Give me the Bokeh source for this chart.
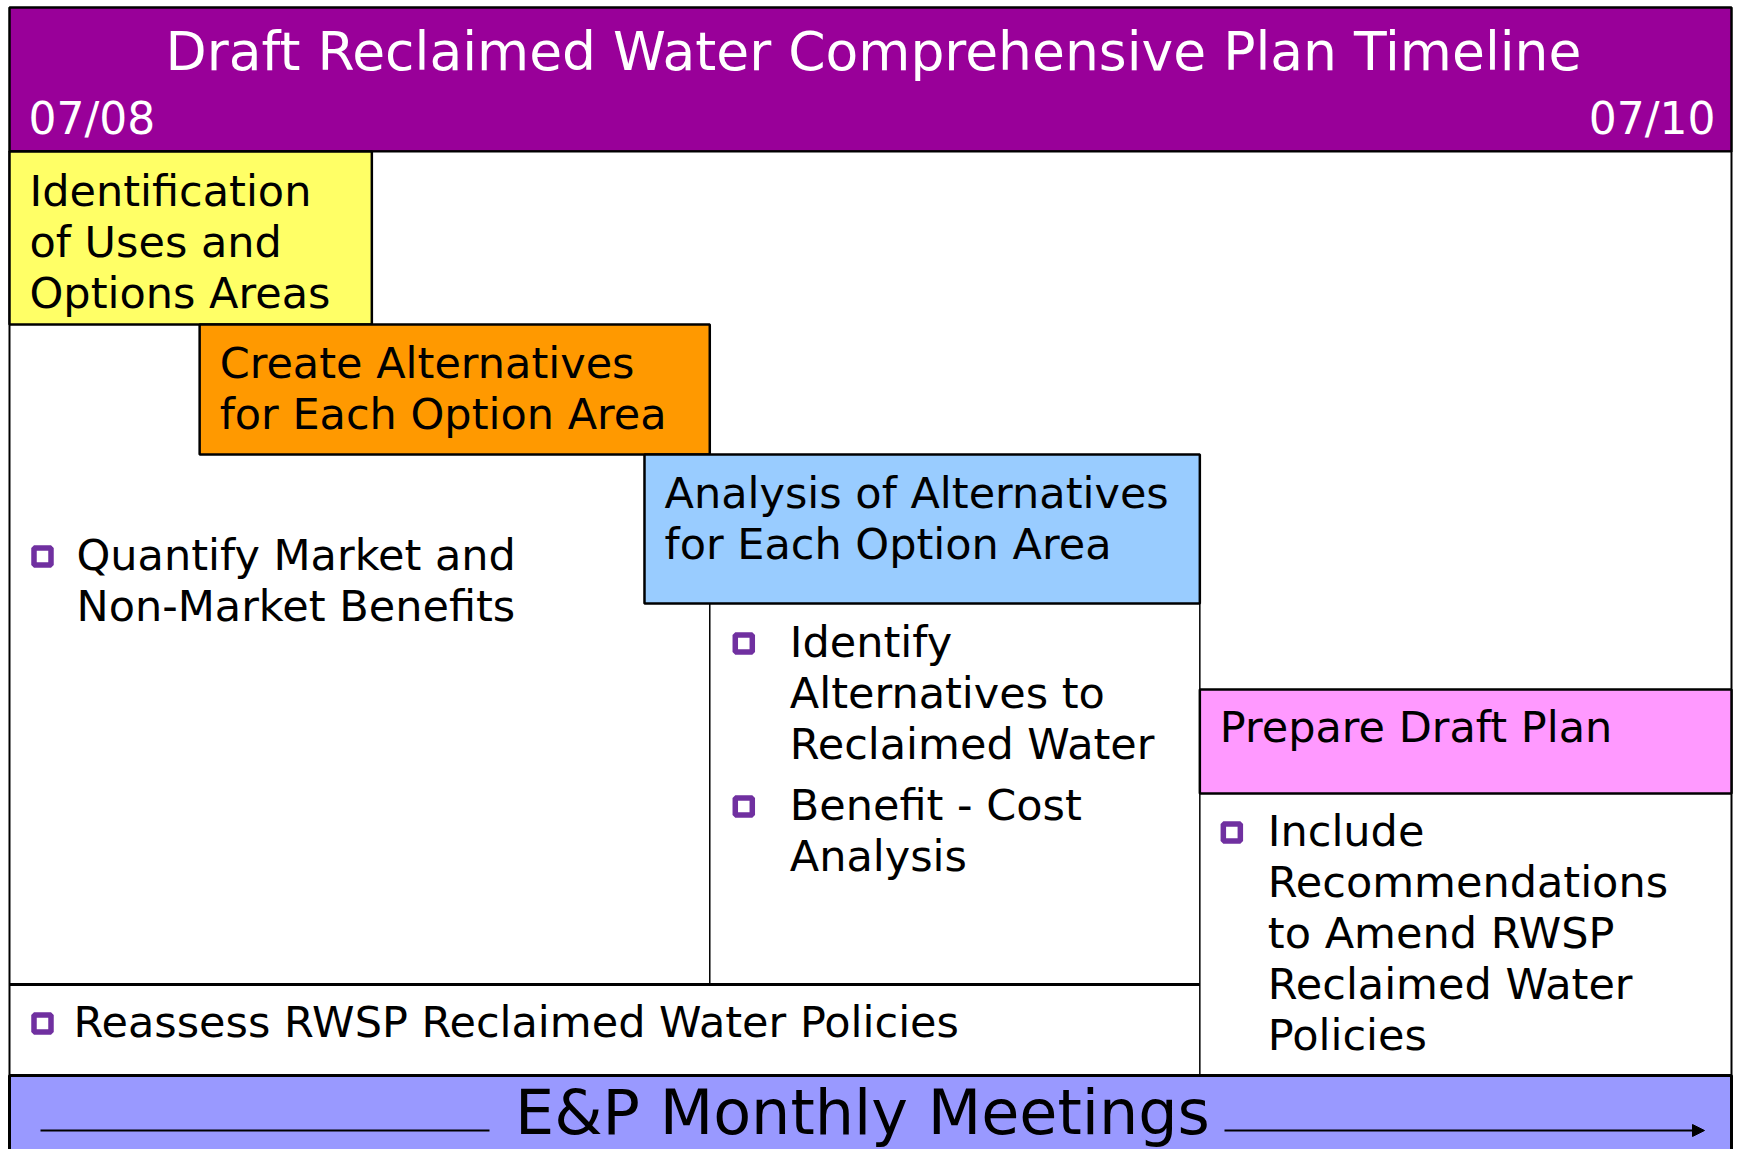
from bokeh.plotting import figure
from bokeh.models import Range1d, Arrow, NormalHead
from bokeh.core.properties import value
from bokeh.embed import file_html
from bokeh.resources import INLINE

# ---- data ----
title = "Draft Reclaimed Water Comprehensive Plan Timeline"
start_label = "07/08"
end_label = "07/10"
total_months = 24

phase_labels = [
    ["Identification", "of Uses and", "Options Areas"],
    ["Create Alternatives", "for Each Option Area"],
    ["Analysis of Alternatives", "for Each Option Area"],
    ["Prepare Draft Plan"],
]
phase_start = [0.0, 2.65, 8.85, 16.59]
phase_end = [5.05, 9.76, 16.59, 24.0]
phase_colors = ["#FFFF66", "#FF9900", "#99CCFF", "#FF99FF"]

task_quantify = ["Quantify Market and", "Non-Market Benefits"]
task_identify = ["Identify", "Alternatives to", "Reclaimed Water"]
task_benefit = ["Benefit - Cost", "Analysis"]
task_include = ["Include", "Recommendations", "to Amend RWSP", "Reclaimed Water", "Policies"]
task_reassess = ["Reassess RWSP Reclaimed Water Policies"]
meetings = "E&P Monthly Meetings"

# ---- layout ----
W, H = 1733, 1149
X0 = 9.0            # pixel of month 0
PX_PER_M = (1731 - X0) / total_months


def px(xpix):
    return (xpix - X0) / PX_PER_M


x_range = Range1d(px(0), px(W))
y_range = Range1d(H, 0)

p = figure(width=W, height=H, x_range=x_range, y_range=y_range,
           output_backend="svg", toolbar_location=None,
           min_border=0, outline_line_color=None)
p.axis.visible = False
p.grid.visible = False
p.background_fill_color = "white"

FONT = value("DejaVu Sans")
BODY = "43px"
LH = 51

# header
p.quad(left=[0], right=[total_months], top=[7], bottom=[151],
       fill_color="#990099", line_color="black", line_width=2.5)
p.text(x=[px(873)], y=[51], text=[title], text_color="white",
       text_font=FONT, text_font_size="53.5px", text_align="center",
       text_baseline="middle")
p.text(x=[0], y=[118], text=[start_label], x_offset=19, text_color="white",
       text_font=FONT, text_font_size="44px", text_align="left",
       text_baseline="middle")
p.text(x=[total_months], y=[118], text=[end_label], x_offset=-16, text_color="white",
       text_font=FONT, text_font_size="44px", text_align="right",
       text_baseline="middle")

# body frame
p.quad(left=[0], right=[total_months], top=[151], bottom=[1075],
       fill_color="white", line_color="black", line_width=2)

# phase boxes
rows_top = [151, 324, 454, 689]
rows_bot = [324, 454, 603, 793]
p.quad(left=phase_start, right=phase_end, top=rows_top, bottom=rows_bot,
       fill_color=phase_colors, line_color="black", line_width=2.5)

line_y0 = [190, 362, 492, 726]
for lab, xs, y0 in zip(phase_labels, phase_start, line_y0):
    ys = [y0 + LH * i for i in range(len(lab))]
    p.text(x=[xs] * len(lab), y=ys, text=lab, x_offset=20, text_color="black",
           text_font=FONT, text_font_size=BODY, text_align="left",
           text_baseline="middle")

# column separators
p.segment(x0=[phase_end[1]], y0=[603], x1=[phase_end[1]], y1=[984],
          line_color="black", line_width=1.5)
p.segment(x0=[phase_end[2]], y0=[603], x1=[phase_end[2]], y1=[1075],
          line_color="black", line_width=1.5)
p.segment(x0=[0], y0=[984], x1=[phase_end[2]], y1=[984],
          line_color="black", line_width=3)


# tasks
def bullet_list(items_groups, x_start, bullet_off, text_off, first_y, gap):
    bx, by = [], []
    y = first_y
    for lines in items_groups:
        bx.append(x_start + bullet_off / PX_PER_M)
        by.append(y + 2)
        ys = [y + LH * i for i in range(len(lines))]
        p.text(x=[x_start] * len(lines), y=ys, text=lines, x_offset=text_off,
               text_color="black", text_font=FONT, text_font_size=BODY,
               text_align="left", text_baseline="middle")
        y = ys[-1] + LH + gap
    p.scatter(x=bx, y=by, marker="square", size=17,
              fill_color=None, line_color="#7030A0", line_width=5.5)


bullet_list([task_quantify], 0, 33, 67, 554, 0)
bullet_list([task_identify, task_benefit], phase_end[1], 34, 80, 641, 10)
bullet_list([task_include], phase_end[2], 32, 68, 830, 0)
bullet_list([task_reassess], 0, 33, 64, 1021, 0)

# bottom meetings band
p.quad(left=[0], right=[total_months], top=[1075], bottom=[1200],
       fill_color="#9999FF", line_color="black", line_width=3)
p.text(x=[px(862)], y=[1112], text=[meetings], text_color="black",
       text_font=FONT, text_font_size="62px", text_align="center",
       text_baseline="middle")
p.segment(x0=[px(40)], y0=[1130], x1=[px(489)], y1=[1130],
          line_color="black", line_width=2)
p.add_layout(Arrow(end=NormalHead(size=12, fill_color="black", line_color="black"),
                   x_start=px(1224), y_start=1130, x_end=px(1704), y_end=1130,
                   line_color="black", line_width=2))

open("out.html", "w").write(file_html(p, INLINE))
